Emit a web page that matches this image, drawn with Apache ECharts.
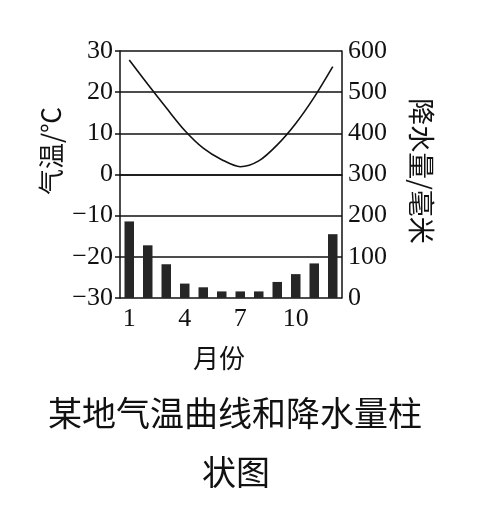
<!DOCTYPE html>
<html>
<head>
<meta charset="utf-8">
<script src="https://cdn.jsdelivr.net/npm/echarts@6/dist/echarts.min.js"></script>
<style>html,body{margin:0;padding:0;background:#fff;}#c{width:478px;height:506px;}</style>
</head>
<body>
<div id="c"></div>
<script>
const months = ['1','2','3','4','5','6','7','8','9','10','11','12'];
const temperature = [27.8, 21.9, 16.2, 10.7, 6.4, 3.6, 1.9, 3.3, 7.2, 12.4, 18.8, 26.2];
const precipitation = [186, 128, 82, 35, 26, 16, 16, 16, 39, 58, 84, 155];
const tempTicks = {min: -30, max: 30, interval: 10};
const precTicks = {min: 0, max: 600, interval: 100};

const numFont = 'Liberation Serif, Times New Roman, serif';
const cjkFont = 'Noto Sans CJK SC, sans-serif';
const ink = '#111';

const chart = echarts.init(document.getElementById('c'), null, {renderer: 'canvas'});
chart.setOption({
  backgroundColor: '#fff',
  animation: false,
  grid: {left: 120, right: 136, top: 51, bottom: 208},
  xAxis: {
    type: 'category',
    data: months,
    boundaryGap: true,
    axisLine: {show: true, lineStyle: {color: ink, width: 1.5}},
    axisTick: {show: false},
    axisLabel: {interval: 2, color: ink, fontFamily: numFont, fontSize: 26, margin: 8}
  },
  yAxis: [
    {
      type: 'value', min: tempTicks.min, max: tempTicks.max, interval: tempTicks.interval,
      position: 'left',
      axisLine: {show: true, lineStyle: {color: ink, width: 1.5}},
      axisTick: {show: true, length: 5, inside: false, lineStyle: {color: ink, width: 1.5}},
      splitLine: {show: true, lineStyle: {color: ink, width: 1.5}},
      axisLabel: {color: ink, fontFamily: numFont, fontSize: 26, margin: 7,
        formatter: v => (v < 0 ? '\u2212' + Math.abs(v) : String(v))}
    },
    {
      type: 'value', min: precTicks.min, max: precTicks.max, interval: precTicks.interval,
      position: 'right',
      axisLine: {show: true, lineStyle: {color: ink, width: 1.5}},
      axisTick: {show: false},
      splitLine: {show: false},
      axisLabel: {color: ink, fontFamily: numFont, fontSize: 26, margin: 6}
    }
  ],
  series: [
    {
      type: 'bar', yAxisIndex: 1, data: precipitation,
      barWidth: 9.5,
      itemStyle: {color: '#262626'},
      z: 2
    },
    {
      type: 'line', yAxisIndex: 0, data: temperature,
      smooth: 0.3, showSymbol: false, symbol: 'none',
      lineStyle: {color: ink, width: 1.6},
      z: 3
    }
  ],
  graphic: [
    {type: 'text', x: 51, y: 151, rotation: Math.PI / 2,
      style: {text: '气温/℃', fill: ink, font: '26px ' + cjkFont, align: 'center', verticalAlign: 'middle'}},
    {type: 'text', x: 421, y: 171, rotation: -Math.PI / 2,
      style: {text: '降水量/毫米', fill: ink, font: '27px ' + cjkFont, align: 'center', verticalAlign: 'middle'}},
    {type: 'text', x: 219, y: 358,
      style: {text: '月份', fill: ink, font: '26px ' + cjkFont, align: 'center', verticalAlign: 'middle'}},
    {type: 'text', x: 235, y: 413,
      style: {text: '某地气温曲线和降水量柱', fill: ink, font: '34px ' + cjkFont, align: 'center', verticalAlign: 'middle'}},
    {type: 'text', x: 236, y: 472,
      style: {text: '状图', fill: ink, font: '34px ' + cjkFont, align: 'center', verticalAlign: 'middle'}}
  ]
});
</script>
</body>
</html>
